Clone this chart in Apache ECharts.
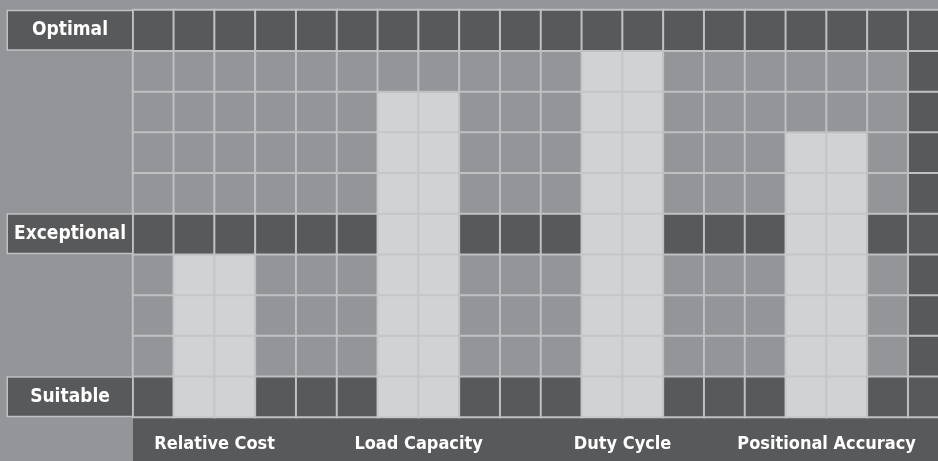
<!DOCTYPE html>
<html><head><meta charset="utf-8">
<script src="https://cdn.jsdelivr.net/npm/echarts@6/dist/echarts.min.js"></script>
<style>html,body{margin:0;padding:0;background:#939598;overflow:hidden}#c{width:949px;height:461px}</style>
</head><body><div id="c"></div>
<script>
// ---- data ----
const categories = ['Relative Cost', 'Load Capacity', 'Duty Cycle', 'Positional Accuracy'];
const barValues = [4, 8, 9, 7];          // bar height, in rating rows counted up from "Suitable"
const levelLabels = ['Suitable', '', '', '', 'Exceptional', '', '', '', '', 'Optimal']; // rows, bottom -> top

// ---- layout constants ----
const COLS_PER_GROUP = 5, BAR_OFFSET = 1, BAR_SPAN = 2;
const nCols = categories.length * COLS_PER_GROUP;
const nRows = levelLabels.length;
const FONT = "'DejaVu Sans Condensed','DejaVu Sans',sans-serif";
const DARK = '#58595b', MID = '#939598', LIGHT = '#d1d2d4', LINE = '#bfc0c2', LINE_LIGHT = '#c5c6c8';

const cells = [];
for (let x = 0; x < nCols; x++) {
  const g = Math.floor(x / COLS_PER_GROUP), off = x % COLS_PER_GROUP;
  const inBar = off >= BAR_OFFSET && off < BAR_OFFSET + BAR_SPAN;
  for (let y = 0; y < nRows; y++) {
    let color = MID, border = LINE;
    if (inBar && y < barValues[g]) { color = LIGHT; border = LINE_LIGHT; }
    else if (levelLabels[y] !== '' || x === nCols - 1) color = DARK;
    cells.push({ value: [x, y, 0], itemStyle: { color, borderColor: border } });
  }
}

const chart = echarts.init(document.getElementById('c'));
chart.setOption({
  backgroundColor: '#939598',
  animation: false,
  grid: [
    { left: 133, top: 10, width: 816, height: 407, show: false },
    { left: 133, top: 417, width: 816, height: 44, show: true, backgroundColor: DARK, borderWidth: 0 }
  ],
  xAxis: [
    { type: 'category', gridIndex: 0, data: Array.from({ length: nCols }, (_, i) => i), show: false },
    { type: 'value', gridIndex: 0, min: 0, max: nCols, position: 'bottom', z: 10,
      axisLine: { show: false }, axisTick: { show: false }, splitLine: { show: false },
      axisLabel: {
        customValues: categories.map((_, i) => i * COLS_PER_GROUP + BAR_OFFSET + BAR_SPAN / 2),
        formatter: v => categories[Math.round((v - BAR_OFFSET - BAR_SPAN / 2) / COLS_PER_GROUP)],
        margin: 17, color: '#ffffff', fontSize: 18, fontWeight: 'bold', fontFamily: FONT, lineHeight: 20
      } },
    { type: 'value', gridIndex: 1, show: false }
  ],
  yAxis: [
    { type: 'category', gridIndex: 0, data: levelLabels, z: 10,
      axisLine: { show: false }, axisTick: { show: false }, splitLine: { show: false },
      axisLabel: {
        interval: 0, margin: 1,
        formatter: v => v ? '{b|' + v + '}' : '',
        rich: {
          b: { width: 124, height: 38, lineHeight: 38, align: 'center',
               backgroundColor: DARK, borderColor: LINE, borderWidth: 1.5,
               color: '#ffffff', fontSize: 19, fontWeight: 'bold', fontFamily: FONT }
        }
      } },
    { type: 'value', gridIndex: 1, show: false }
  ],
  series: [{
    type: 'heatmap', xAxisIndex: 0, yAxisIndex: 0, data: cells, silent: true,
    itemStyle: { borderWidth: 2 },
    emphasis: { disabled: true }
  }]
});
</script></body></html>
